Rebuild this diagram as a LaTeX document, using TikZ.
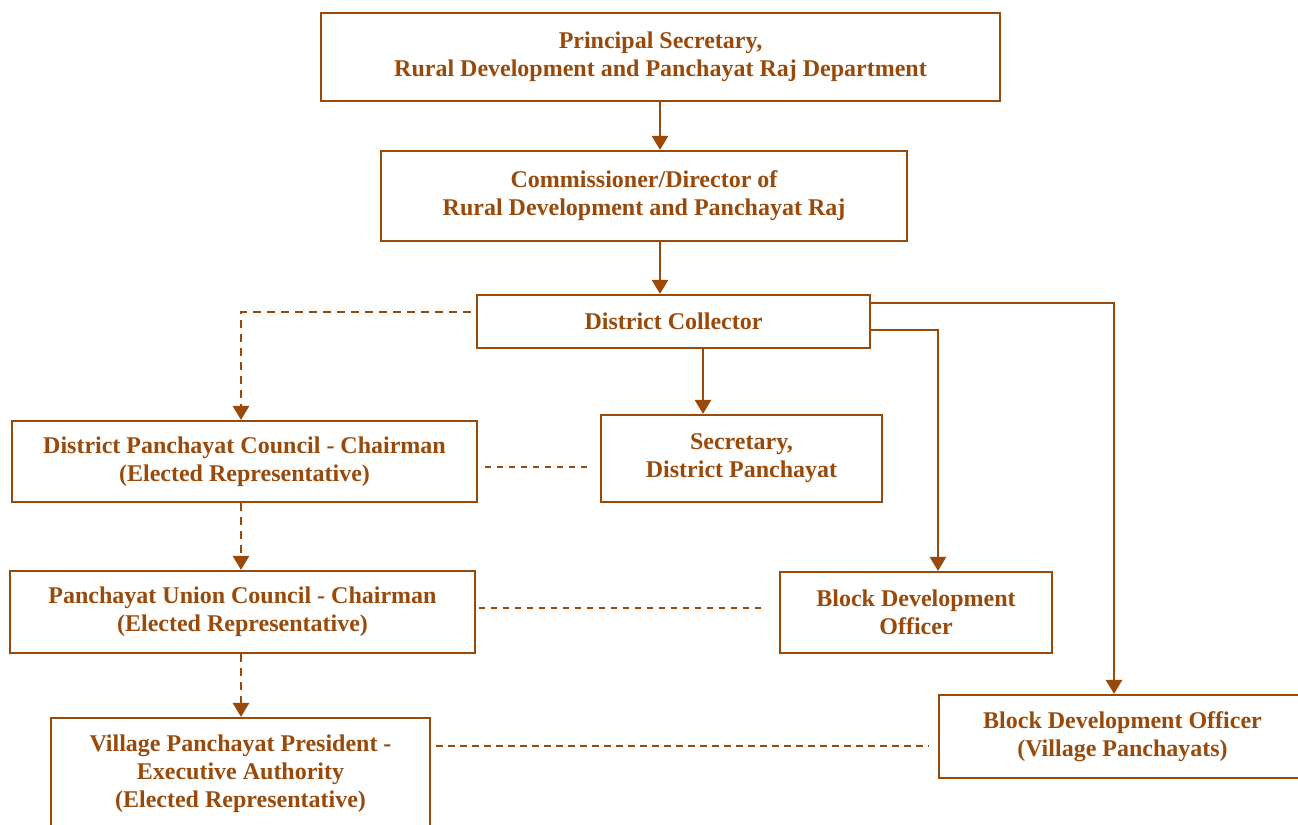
\documentclass[tikz,border=0pt]{standalone}
\usepackage{fontspec}
\setmainfont{Liberation Serif}
\usetikzlibrary{arrows.meta}
\definecolor{brn}{RGB}{153,74,10}
\begin{document}
\begin{tikzpicture}[x=0.75pt,y=-0.75pt,
 box/.style={draw=brn,line width=1.6pt,inner sep=0pt,align=center,font=\bfseries\fontsize{18}{21}\selectfont,text=brn},
 arr/.style={draw=brn,line width=2pt,-{Triangle[width=12pt,length=10.5pt]}},
 darr/.style={arr,dash pattern=on 6pt off 4.5pt},
 dl/.style={draw=brn,line width=1pt,dash pattern=on 5pt off 4pt}]
\useasboundingbox (0,0) rectangle (1298,824);
\node[box,minimum width=509.25pt,minimum height=66pt] (ps) at (660.5,57) {Principal Secretary,\\Rural Development and Panchayat Raj Department};
\node[box,minimum width=394.5pt,minimum height=67.5pt] (cm) at (644,196) {Commissioner/Director of\\Rural Development and Panchayat Raj};
\node[box,minimum width=294.75pt,minimum height=39.75pt] (dc) at (673.5,321.5) {District Collector};
\node[box,minimum width=348.75pt,minimum height=60.75pt] (dpc) at (244.5,461.5) {District Panchayat Council - Chairman\\(Elected Representative)};
\node[box,minimum width=210.75pt,minimum height=65.25pt] (sec) at (741.5,458.5) {Secretary,\\District Panchayat};
\node[box,minimum width=348.75pt,minimum height=61.5pt] (puc) at (242.5,612) {Panchayat Union Council - Chairman\\(Elected Representative)};
\node[box,minimum width=204pt,minimum height=60.75pt] (bdo) at (916,612.5) {Block Development\\Officer};
\node[box,minimum width=284.25pt,minimum height=84pt] (vil) at (240.5,774) {Village Panchayat President -\\Executive Authority\\(Elected Representative)};
\node[box,minimum width=275.25pt,minimum height=62.25pt] (bdov) at (1122.5,736.5) {Block Development Officer\\(Village Panchayats)};

\draw[arr] (660,0 |- ps.south) -- (660,0 |- cm.north);
\draw[arr] (660,0 |- cm.south) -- (660,0 |- dc.north);
\draw[arr] (703,0 |- dc.south) -- (703,0 |- sec.north);
\draw[darr,shorten <=4pt] (dc.west |- 0,312) -| (241,0 |- dpc.north);
\draw[arr] (dc.east |- 0,303) -| (1114,0 |- bdov.north);
\draw[arr] (dc.east |- 0,330) -| (938,0 |- bdo.north);
\draw[darr] (241,0 |- dpc.south) -- (241,0 |- puc.north);
\draw[darr] (241,0 |- puc.south) -- (241,0 |- vil.north);
\draw[dl,shorten <=5pt,shorten >=7pt] (dpc.east |- 0,467) -- (sec.west |- 0,467);
\draw[dl,shorten <=2pt,shorten >=10pt] (puc.east |- 0,608) -- (bdo.west |- 0,608);
\draw[dl,shorten <=4pt,shorten >=7pt] (vil.east |- 0,746) -- (bdov.west |- 0,746);
\end{tikzpicture}
\end{document}
